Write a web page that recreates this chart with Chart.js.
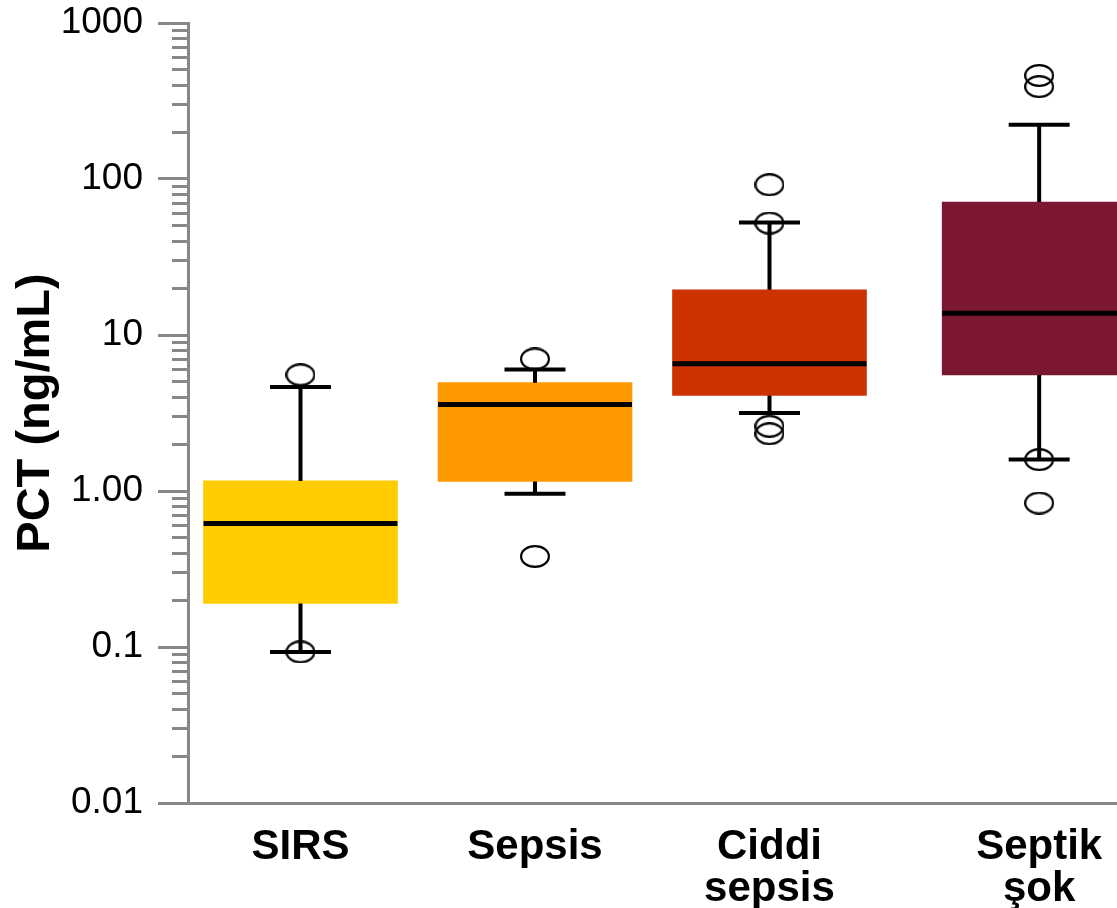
<!DOCTYPE html>
<html>
<head>
<meta charset="utf-8">
<script src="https://cdn.jsdelivr.net/npm/chart.js@4.4.1/dist/chart.umd.min.js"></script>
<style>
  html, body { margin: 0; padding: 0; background: #fff; }
  #wrap { width: 1117px; height: 908px; position: relative; }
</style>
</head>
<body>
<div id="wrap"><canvas id="c"></canvas></div>
<script>
// Groups and their five-number summaries (PCT, ng/mL)
const categories = ['SIRS', 'Sepsis', ['Ciddi', 'sepsis'], ['Septik', 'şok']];
const groupPos = [1, 2, 3, 4.15];
const whiskerLow = [0.093, 0.96, 3.16, 1.59];
const q1 = [0.19, 1.15, 4.10, 5.54];
const median = [0.62, 3.59, 6.55, 13.8];
const q3 = [1.16, 4.95, 19.5, 71.2];
const whiskerHigh = [4.64, 6.02, 52.7, 223];
const outliers = [[5.56, 0.093], [7.02, 0.381], [91.9, 52.2, 2.60, 2.33], [461, 391, 1.59, 0.837]];

// Log axis decades and their printed labels
const decadeValues = [0.01, 0.1, 1, 10, 100, 1000];
const decadeLabels = ['0.01', '0.1', '1.00', '10', '100', '1000'];

const boxColors = ['#FFCC00', '#FF9900', '#CC3300', '#7B1730'];
const AXIS_GREY = '#888888';
const BOX_HALF = 0.4135;   // half box width in x units
const CAP_HALF = 0.13;     // half whisker-cap width in x units

// Every 1..9 step of each decade, used for the minor tick marks
const yTicks = [];
for (let e = -2; e <= 2; e++) {
  for (let k = 1; k <= 9; k++) yTicks.push(Number((k * Math.pow(10, e)).toPrecision(3)));
}
yTicks.push(1000);

const isDecade = v => Math.abs(Math.log10(v) - Math.round(Math.log10(v))) < 1e-9;
const decadeLabel = v => {
  const i = decadeValues.findIndex(d => Math.abs(d - v) / d < 1e-9);
  return i >= 0 ? decadeLabels[i] : '';
};

// Box bodies as floating bars from Q1 to Q3
const boxData = groupPos.map((x, i) => ({ x, y: [q1[i], q3[i]] }));

// Whisker stems and caps, separated by gaps
const gap = x => ({ x, y: null });
const whiskerData = [];
groupPos.forEach((x, i) => {
  whiskerData.push({ x, y: q3[i] }, { x, y: whiskerHigh[i] }, gap(x));
  whiskerData.push({ x, y: whiskerLow[i] }, { x, y: q1[i] }, gap(x));
  whiskerData.push({ x: x - CAP_HALF, y: whiskerHigh[i] }, { x: x + CAP_HALF, y: whiskerHigh[i] }, gap(x));
  whiskerData.push({ x: x - CAP_HALF, y: whiskerLow[i] }, { x: x + CAP_HALF, y: whiskerLow[i] }, gap(x));
});

// Median bars across each box
const medianData = [];
groupPos.forEach((x, i) => {
  medianData.push({ x: x - BOX_HALF, y: median[i] }, { x: x + BOX_HALF, y: median[i] }, gap(x));
});

// Outlying observations
const outlierData = [];
groupPos.forEach((x, i) => outliers[i].forEach(v => outlierData.push({ x, y: v })));

// Open oval marker for outliers
function ringMarker(w, h, lw) {
  const c = document.createElement('canvas');
  c.width = w; c.height = h;
  const g = c.getContext('2d');
  g.strokeStyle = '#000';
  g.lineWidth = lw;
  g.beginPath();
  g.ellipse(w / 2, h / 2, w / 2 - lw / 2, h / 2 - lw / 2, 0, 0, Math.PI * 2);
  g.stroke();
  return c;
}
const ring = ringMarker(30, 23, 2.2);

const FONT = "'Liberation Sans', Arial, sans-serif";

new Chart(document.getElementById('c'), {
  type: 'bar',
  data: {
    datasets: [
      {
        type: 'scatter',
        data: outlierData,
        pointStyle: ring,
        pointRadius: 12,
        clip: false,
        order: 1
      },
      {
        type: 'line',
        data: medianData,
        borderColor: '#000',
        borderWidth: 5,
        pointRadius: 0,
        borderCapStyle: 'butt',
        spanGaps: false,
        tension: 0,
        order: 2
      },
      {
        type: 'line',
        data: whiskerData,
        borderColor: '#000',
        borderWidth: 4,
        pointRadius: 0,
        borderCapStyle: 'butt',
        spanGaps: false,
        tension: 0,
        order: 3
      },
      {
        type: 'bar',
        data: boxData,
        backgroundColor: boxColors,
        borderWidth: 0,
        barThickness: 194,
        order: 4
      }
    ]
  },
  options: {
    responsive: true,
    maintainAspectRatio: false,
    animation: false,
    layout: { autoPadding: false, padding: { top: 23, left: 0, right: 0, bottom: 0 } },
    plugins: {
      legend: { display: false },
      tooltip: { enabled: false }
    },
    scales: {
      x: {
        type: 'linear',
        min: 0.5203,
        max: 4.4819,
        offset: false,
        afterBuildTicks: s => { s.ticks = groupPos.map(v => ({ value: v })); },
        afterFit: s => {
          s.height = 105;
          s.paddingLeft = 0;
          s.paddingRight = 0;
        },
        ticks: {
          autoSkip: false,
          maxRotation: 0,
          minRotation: 0,
          padding: 23,
          color: '#000',
          font: { family: FONT, size: 42, weight: 'bold', lineHeight: 1.0 },
          callback: (v, i) => categories[i]
        },
        grid: { display: false, drawTicks: false, offset: false },
        border: { display: true, color: AXIS_GREY, width: 3 }
      },
      y: {
        type: 'logarithmic',
        min: 0.01,
        max: 1000,
        afterBuildTicks: s => { s.ticks = yTicks.map(v => ({ value: v, major: isDecade(v) })); },
        afterFit: s => {
          s.width = 188;
          s.paddingTop = 0;
          s.paddingBottom = 0;
        },
        ticks: {
          autoSkip: false,
          padding: 15,
          color: '#000',
          font: { family: FONT, size: 37 },
          callback: v => decadeLabel(v)
        },
        grid: {
          display: true,
          drawOnChartArea: false,
          drawTicks: true,
          tickLength: 30,
          tickWidth: 3,
          tickColor: AXIS_GREY,
          tickBorderDash: ctx => (ctx.tick && isDecade(ctx.tick.value)) ? [] : [0, 14, 40]
        },
        border: { display: true, color: AXIS_GREY, width: 3 },
        title: {
          display: true,
          text: 'PCT (ng/mL)',
          color: '#000',
          font: { family: FONT, size: 47, weight: 'bold' },
          padding: { top: 8, bottom: 0 }
        }
      }
    }
  }
});
</script>
</body>
</html>
